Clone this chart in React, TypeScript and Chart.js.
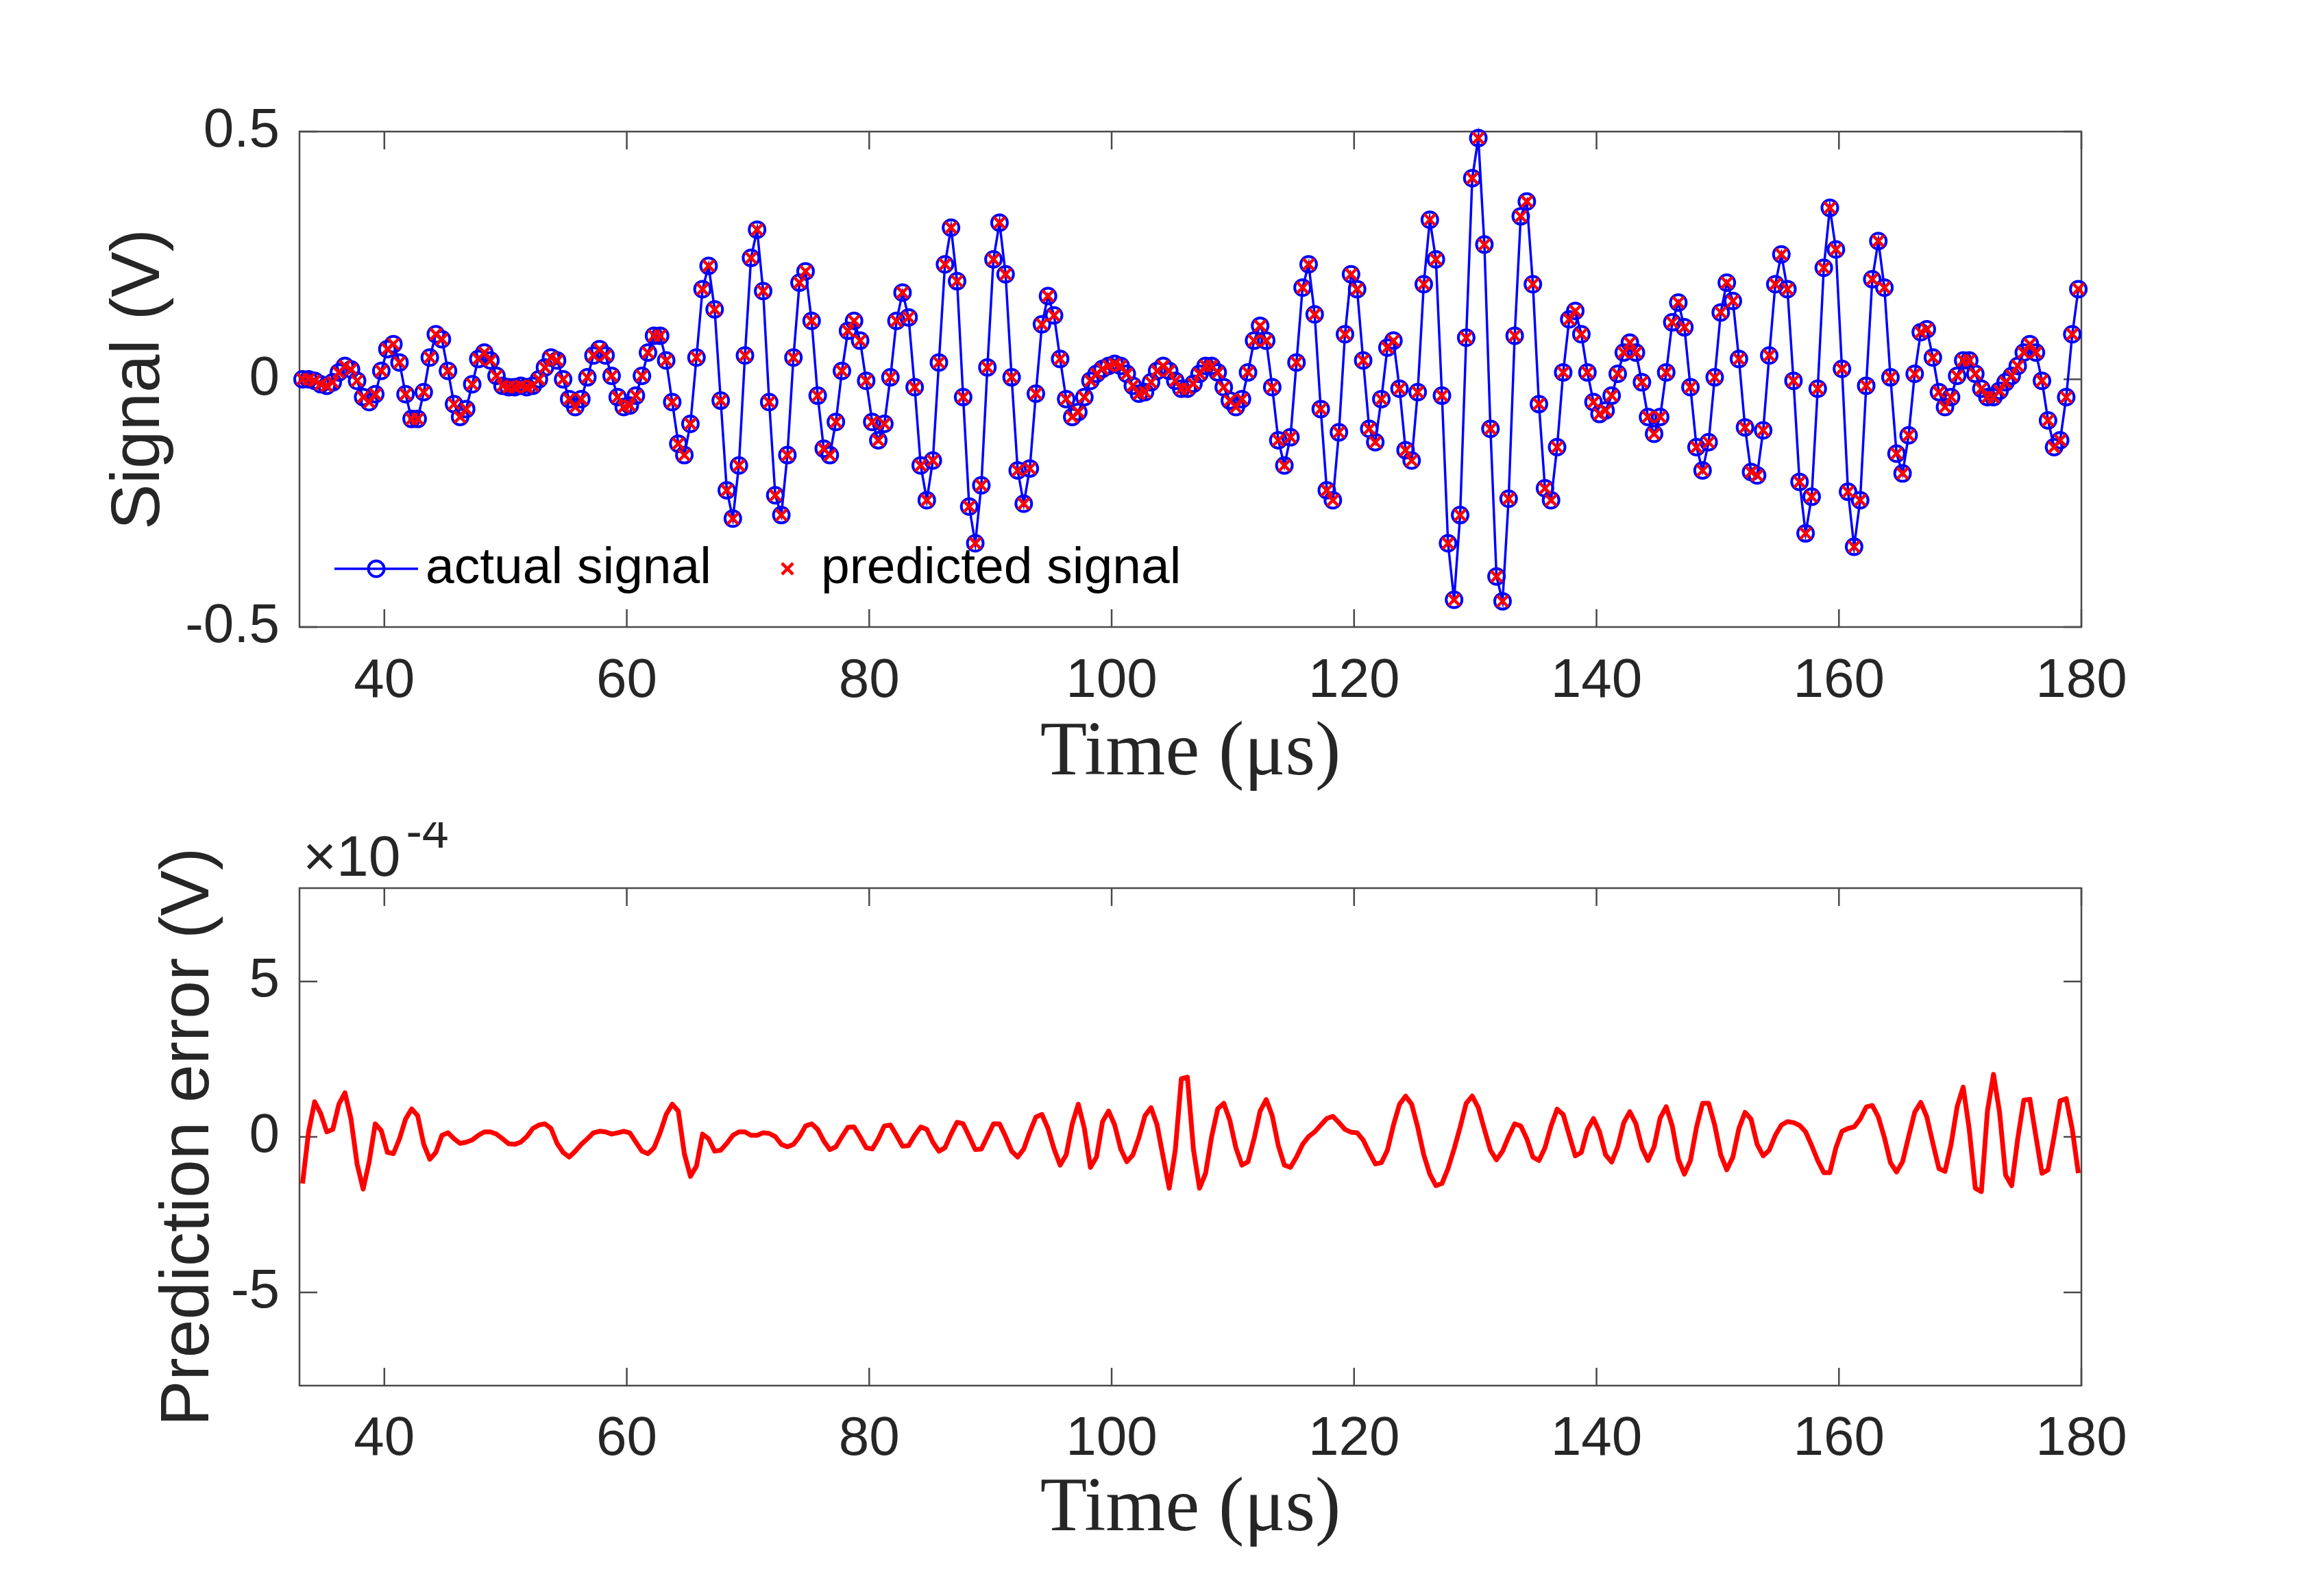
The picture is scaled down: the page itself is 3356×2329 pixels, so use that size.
import React, { useEffect, useRef } from "react";
import { Chart, registerables } from "chart.js";

Chart.register(...registerables);

// Signal vs prediction: two stacked MATLAB-style panels
// - top: actual signal (blue line + circles) with predicted samples (red x)
// - bottom: prediction error, plotted in units of 1e-4 V

const FIG_W = 3356;
const FIG_H = 2329;
const TOP_H = 1200;
const BOTTOM_H = FIG_H - TOP_H;

// sampling grid of the record (µs)
const T_START = 33.25;
const T_STEP = 0.5;

const X_MIN = 33;
const X_MAX = 180;
const X_TICKS = [40, 60, 80, 100, 120, 140, 160, 180];
const SIGNAL_TICKS = [-0.5, 0, 0.5];
const ERROR_TICKS = [-5, 0, 5];

// actual signal (V), one value per sample
const actualSignal: number[] = [
  0.0, 0.0, -0.003, -0.01, -0.013, -0.006, 0.014, 0.027, 0.02, -0.003,
  -0.036, -0.046, -0.03, 0.017, 0.061, 0.071, 0.034, -0.03, -0.08, -0.08,
  -0.026, 0.044, 0.091, 0.081, 0.017, -0.05, -0.076, -0.06, -0.01, 0.041,
  0.054, 0.038, 0.007, -0.013, -0.016, -0.016, -0.013, -0.016, -0.013, 0.0,
  0.024, 0.044, 0.038, 0.0, -0.04, -0.056, -0.04, 0.004, 0.048, 0.061,
  0.048, 0.007, -0.036, -0.056, -0.053, -0.033, 0.007, 0.054, 0.088, 0.088,
  0.038, -0.046, -0.13, -0.153, -0.09, 0.044, 0.182, 0.229, 0.141, -0.043,
  -0.224, -0.281, -0.174, 0.048, 0.245, 0.302, 0.178, -0.046, -0.234, -0.274,
  -0.153, 0.044, 0.195, 0.218, 0.118, -0.033, -0.14, -0.153, -0.086, 0.017,
  0.098, 0.118, 0.078, -0.003, -0.086, -0.123, -0.09, 0.004, 0.118, 0.175,
  0.125, -0.016, -0.174, -0.244, -0.164, 0.034, 0.232, 0.306, 0.198, -0.036,
  -0.257, -0.331, -0.214, 0.024, 0.242, 0.316, 0.212, 0.004, -0.184, -0.251,
  -0.18, -0.029, 0.111, 0.168, 0.129, 0.041, -0.04, -0.076, -0.066, -0.036,
  -0.003, 0.011, 0.021, 0.027, 0.031, 0.027, 0.011, -0.013, -0.029, -0.026,
  -0.006, 0.017, 0.027, 0.017, -0.003, -0.019, -0.019, -0.009, 0.011, 0.027,
  0.027, 0.014, -0.016, -0.043, -0.056, -0.04, 0.014, 0.078, 0.108, 0.078,
  -0.016, -0.123, -0.174, -0.117, 0.034, 0.185, 0.232, 0.131, -0.06, -0.224,
  -0.244, -0.107, 0.091, 0.212, 0.182, 0.038, -0.1, -0.127, -0.04, 0.064,
  0.078, -0.019, -0.143, -0.164, -0.026, 0.192, 0.322, 0.242, -0.033, -0.331,
  -0.445, -0.274, 0.084, 0.406, 0.487, 0.272, -0.1, -0.398, -0.448, -0.241,
  0.088, 0.329, 0.359, 0.192, -0.05, -0.22, -0.244, -0.137, 0.014, 0.121,
  0.138, 0.091, 0.014, -0.046, -0.07, -0.063, -0.033, 0.011, 0.054, 0.074,
  0.054, -0.006, -0.076, -0.11, -0.076, 0.014, 0.115, 0.155, 0.105, -0.016,
  -0.137, -0.184, -0.127, 0.004, 0.135, 0.195, 0.158, 0.041, -0.097, -0.187,
  -0.194, -0.103, 0.048, 0.192, 0.252, 0.182, -0.003, -0.207, -0.311, -0.237,
  -0.019, 0.225, 0.346, 0.262, 0.021, -0.227, -0.338, -0.244, -0.013, 0.202,
  0.279, 0.185, 0.004, -0.15, -0.19, -0.113, 0.011, 0.095, 0.101, 0.044,
  -0.026, -0.056, -0.036, 0.007, 0.038, 0.038, 0.011, -0.019, -0.036, -0.036,
  -0.023, -0.006, 0.007, 0.027, 0.054, 0.071, 0.054, -0.003, -0.083, -0.137,
  -0.123, -0.036, 0.091, 0.182,
];

// prediction error (actual - predicted), in units of 1e-4 V
const predictionErrorE4: number[] = [
  -1.5, 0.16, 1.13, 0.75, 0.16, 0.24, 1.05, 1.42, 0.57, -0.87,
  -1.68, -0.8, 0.42, 0.2, -0.5, -0.54, -0.06, 0.57, 0.9, 0.68,
  -0.24, -0.72, -0.5, 0.05, 0.13, -0.06, -0.21, -0.17, -0.1, 0.05,
  0.16, 0.16, 0.09, -0.06, -0.22, -0.24, -0.17, 0.01, 0.27, 0.38,
  0.42, 0.27, -0.21, -0.5, -0.65, -0.46, -0.24, -0.06, 0.13, 0.18,
  0.16, 0.09, 0.13, 0.18, 0.13, -0.17, -0.46, -0.54, -0.35, 0.13,
  0.72, 1.05, 0.83, -0.54, -1.27, -0.94, 0.09, -0.06, -0.46, -0.43,
  -0.21, 0.05, 0.16, 0.16, 0.05, 0.05, 0.13, 0.11, 0.01, -0.24,
  -0.32, -0.24, 0.01, 0.35, 0.42, 0.24, -0.13, -0.41, -0.32, 0.01,
  0.31, 0.32, 0.0, -0.35, -0.39, -0.06, 0.35, 0.38, 0.05, -0.3,
  -0.28, 0.05, 0.32, 0.24, -0.17, -0.46, -0.35, 0.09, 0.47, 0.42,
  0.01, -0.41, -0.39, 0.01, 0.42, 0.42, 0.01, -0.46, -0.65, -0.39,
  0.16, 0.64, 0.72, 0.27, -0.39, -0.91, -0.58, 0.42, 1.05, 0.27,
  -0.98, -0.65, 0.49, 0.83, 0.38, -0.39, -0.8, -0.58, -0.02, 0.68,
  0.94, 0.38, -0.65, -1.65, -0.43, 1.87, 1.92, -0.41, -1.65, -1.17,
  0.01, 0.9, 1.08, 0.53, -0.35, -0.91, -0.8, -0.06, 0.83, 1.2,
  0.68, -0.28, -0.91, -0.98, -0.65, -0.24, 0.01, 0.16, 0.38, 0.59,
  0.66, 0.46, 0.24, 0.15, 0.13, -0.1, -0.5, -0.87, -0.83, -0.43,
  0.38, 1.05, 1.31, 1.05, 0.31, -0.58, -1.2, -1.57, -1.5, -1.02,
  -0.39, 0.31, 1.08, 1.31, 0.94, 0.24, -0.43, -0.74, -0.46, 0.01,
  0.42, 0.35, -0.06, -0.65, -0.76, -0.35, 0.35, 0.89, 0.72, 0.05,
  -0.61, -0.5, 0.24, 0.59, 0.16, -0.58, -0.81, -0.32, 0.46, 0.81,
  0.42, -0.35, -0.76, -0.32, 0.61, 0.97, 0.35, -0.72, -1.2, -0.76,
  0.31, 1.08, 1.08, 0.38, -0.58, -1.06, -0.65, 0.27, 0.79, 0.57,
  -0.24, -0.61, -0.43, 0.05, 0.38, 0.49, 0.46, 0.37, 0.16, -0.28,
  -0.76, -1.15, -1.15, -0.35, 0.18, 0.27, 0.32, 0.57, 0.96, 1.01,
  0.64, -0.02, -0.83, -1.13, -0.8, 0.01, 0.79, 1.11, 0.64, -0.21,
  -1.02, -1.11, -0.24, 0.97, 1.6, 0.24, -1.65, -1.76, 0.83, 2.01,
  0.79, -1.23, -1.57, -0.06, 1.18, 1.21, 0.01, -1.17, -1.06, 0.01,
  1.16, 1.23, 0.24, -1.17,
];

const sampleTimes = actualSignal.map((_, i) => T_START + i * T_STEP);
const predictedSignal = actualSignal.map((v, i) => v - predictionErrorE4[i] * 1e-4);

const SANS = '"Liberation Sans", Arial, Helvetica, sans-serif';
const SERIF = '"Liberation Serif", "Times New Roman", serif';
const AXIS_COLOR = "#262626";
const FRAME_COLOR = "#4a4a4a";
const BLUE = "#0000ff";
const RED = "#ff0000";

// box around the axes + inward tick marks on all four sides (MATLAB "box on")
const axesFramePlugin = {
  id: "axesFrame",
  beforeDatasetsDraw(chart: any) {
    const { ctx, chartArea, scales } = chart;
    const { left, right, top, bottom } = chartArea;
    const tl = 26;
    ctx.save();
    ctx.strokeStyle = FRAME_COLOR;
    ctx.lineWidth = 2.5;
    ctx.strokeRect(left, top, right - left, bottom - top);
    ctx.beginPath();
    scales.x.ticks.forEach((t: any) => {
      const px = scales.x.getPixelForValue(t.value);
      ctx.moveTo(px, bottom);
      ctx.lineTo(px, bottom - tl);
      ctx.moveTo(px, top);
      ctx.lineTo(px, top + tl);
    });
    scales.y.ticks.forEach((t: any) => {
      const py = scales.y.getPixelForValue(t.value);
      ctx.moveTo(left, py);
      ctx.lineTo(left + tl, py);
      ctx.moveTo(right, py);
      ctx.lineTo(right - tl, py);
    });
    ctx.stroke();
    ctx.restore();
  },
};

// legend drawn inside the axes, lower-left, no box
const insideLegendPlugin = {
  id: "insideLegend",
  afterDatasetsDraw(chart: any) {
    const { ctx, chartArea } = chart;
    const actual = chart.data.datasets[0];
    const predicted = chart.data.datasets[1];
    const y = chartArea.bottom - 85;
    const x0 = chartArea.left + 51;
    ctx.save();
    // actual signal sample: line with circle
    ctx.strokeStyle = actual.borderColor;
    ctx.lineWidth = actual.borderWidth;
    ctx.beginPath();
    ctx.moveTo(x0, y);
    ctx.lineTo(x0 + 122, y);
    ctx.stroke();
    ctx.lineWidth = actual.pointBorderWidth;
    ctx.beginPath();
    ctx.arc(x0 + 61, y, actual.pointRadius, 0, Math.PI * 2);
    ctx.stroke();
    // predicted sample: red x
    const cx = chartArea.left + 712;
    const h = predicted.pointRadius * Math.SQRT1_2;
    ctx.strokeStyle = predicted.pointBorderColor;
    ctx.lineWidth = predicted.pointBorderWidth;
    ctx.beginPath();
    ctx.moveTo(cx - h, y - h);
    ctx.lineTo(cx + h, y + h);
    ctx.moveTo(cx - h, y + h);
    ctx.lineTo(cx + h, y - h);
    ctx.stroke();
    ctx.fillStyle = "#000";
    ctx.font = `75px ${SANS}`;
    ctx.textBaseline = "middle";
    ctx.textAlign = "left";
    ctx.fillText(actual.label, chartArea.left + 184, y);
    ctx.fillText(predicted.label, chartArea.left + 761, y);
    ctx.restore();
  },
};

// MATLAB-style exponent label above the y axis
const exponentLabelPlugin = {
  id: "exponentLabel",
  afterDraw(chart: any) {
    const { ctx, chartArea } = chart;
    ctx.save();
    ctx.fillStyle = AXIS_COLOR;
    ctx.textAlign = "left";
    ctx.textBaseline = "alphabetic";
    ctx.font = `84px ${SANS}`;
    const base = "\u00d710";
    const x = chartArea.left + 5;
    ctx.fillText(base, x, chartArea.top - 18);
    const w = ctx.measureText(base).width;
    ctx.font = `70px ${SANS}`;
    ctx.fillText("-4", x + w + 8, chartArea.top - 59);
    ctx.restore();
  },
};

function xScale(height: number, tickPad: number, titlePad: number) {
  return {
    type: "linear" as const,
    min: X_MIN,
    max: X_MAX,
    afterBuildTicks: (s: any) => {
      s.ticks = X_TICKS.map((v) => ({ value: v }));
    },
    afterFit: (s: any) => {
      s.height = height;
    },
    grid: { display: false, drawTicks: false },
    border: { display: false },
    ticks: {
      color: AXIS_COLOR,
      font: { family: SANS, size: 80 },
      padding: tickPad,
      maxRotation: 0,
      autoSkip: false,
      callback: (v: any) => String(v),
    },
    title: {
      display: true,
      text: "Time (\u03bcs)",
      color: AXIS_COLOR,
      font: { family: SERIF, size: 112 },
      padding: { top: 0, bottom: titlePad },
    },
  };
}

function yScale(min: number, max: number, ticks: number[], title: string, titlePad: number) {
  return {
    min,
    max,
    afterBuildTicks: (s: any) => {
      s.ticks = ticks.map((v) => ({ value: v }));
    },
    afterFit: (s: any) => {
      s.width = 437;
    },
    grid: { display: false, drawTicks: false },
    border: { display: false },
    ticks: {
      color: AXIS_COLOR,
      font: { family: SANS, size: 80 },
      padding: 29,
      callback: (v: any) => String(v),
    },
    title: {
      display: true,
      text: title,
      color: AXIS_COLOR,
      font: { family: SANS, size: 100 },
      padding: { top: titlePad, bottom: 0 },
    },
  };
}

function SignalPanel() {
  const canvasRef = useRef<HTMLCanvasElement>(null);

  useEffect(() => {
    if (!canvasRef.current) return;
    const chart = new Chart(canvasRef.current, {
      type: "line",
      data: {
        datasets: [
          {
            label: "actual signal",
            data: sampleTimes.map((t, i) => ({ x: t, y: actualSignal[i] })),
            borderColor: BLUE,
            borderWidth: 3.5,
            tension: 0,
            pointStyle: "circle",
            pointRadius: 11.5,
            pointBorderWidth: 4,
            pointBorderColor: BLUE,
            pointBackgroundColor: "rgba(0,0,0,0)",
            clip: false,
            order: 1,
          } as any,
          {
            label: "predicted signal",
            data: sampleTimes.map((t, i) => ({ x: t, y: predictedSignal[i] })),
            showLine: false,
            pointStyle: "crossRot",
            pointRadius: 11.5,
            pointBorderWidth: 4.5,
            pointBorderColor: RED,
            borderColor: RED,
            clip: false,
            order: 0,
          } as any,
        ],
      },
      options: {
        responsive: false,
        animation: false,
        devicePixelRatio: 1,
        events: [],
        layout: { padding: { top: 192, left: 0, right: FIG_W - 3037, bottom: 0 } },
        plugins: { legend: { display: false }, tooltip: { enabled: false } },
        scales: {
          x: xScale(TOP_H - 915, 32, 32),
          y: yScale(-0.5, 0.5, SIGNAL_TICKS, "Signal (V)", 144),
        } as any,
      },
      plugins: [axesFramePlugin, insideLegendPlugin],
    });
    return () => chart.destroy();
  }, []);

  return (
    <canvas
      ref={canvasRef}
      width={FIG_W}
      height={TOP_H}
      style={{ position: "absolute", left: 0, top: 0, width: FIG_W, height: TOP_H }}
    />
  );
}

function ErrorPanel() {
  const canvasRef = useRef<HTMLCanvasElement>(null);

  useEffect(() => {
    if (!canvasRef.current) return;
    const chart = new Chart(canvasRef.current, {
      type: "line",
      data: {
        datasets: [
          {
            label: "prediction error",
            data: sampleTimes.map((t, i) => ({ x: t, y: predictionErrorE4[i] })),
            borderColor: RED,
            borderWidth: 7,
            tension: 0,
            pointRadius: 0,
            borderJoinStyle: "round",
          } as any,
        ],
      },
      options: {
        responsive: false,
        animation: false,
        devicePixelRatio: 1,
        events: [],
        layout: { padding: { top: 1296 - TOP_H, left: 0, right: FIG_W - 3037, bottom: 0 } },
        plugins: { legend: { display: false }, tooltip: { enabled: false } },
        scales: {
          x: xScale(FIG_H - 2022, 31, 58),
          y: yScale(-8, 8, ERROR_TICKS, "Prediction error (V)", 216),
        } as any,
      },
      plugins: [axesFramePlugin, exponentLabelPlugin],
    });
    return () => chart.destroy();
  }, []);

  return (
    <canvas
      ref={canvasRef}
      width={FIG_W}
      height={BOTTOM_H}
      style={{ position: "absolute", left: 0, top: TOP_H, width: FIG_W, height: BOTTOM_H }}
    />
  );
}

export default function App() {
  return (
    <div
      style={{
        position: "absolute",
        left: 0,
        top: 0,
        width: FIG_W,
        height: FIG_H,
        background: "#fff",
        overflow: "hidden",
      }}
    >
      <SignalPanel />
      <ErrorPanel />
    </div>
  );
}
